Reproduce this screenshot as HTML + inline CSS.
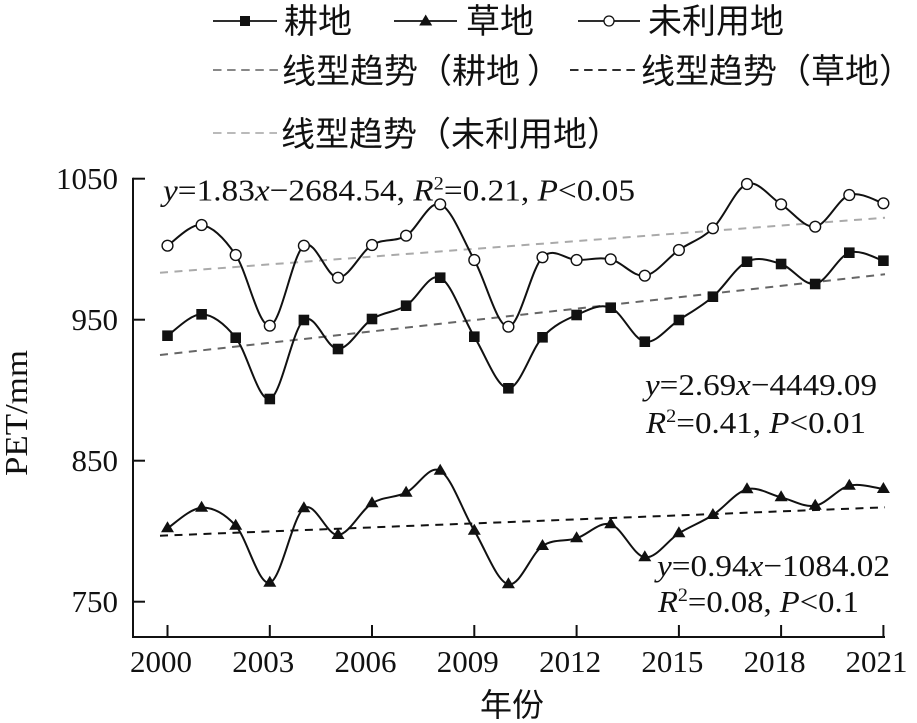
<!DOCTYPE html>
<html>
<head>
<meta charset="utf-8">
<style>
  html, body { margin: 0; padding: 0; background: #ffffff; }
  svg { display: block; }
  .num { font-family: "Liberation Serif", "Times New Roman", serif; fill: #111; }
  .cjk { font-family: "Liberation Sans", "Noto Sans CJK SC", sans-serif; fill: #111; }
  .it { font-style: italic; }
</style>
</head>
<body>
<svg width="917" height="723" viewBox="0 0 917 723" xmlns="http://www.w3.org/2000/svg">
  <rect x="0" y="0" width="917" height="723" fill="#ffffff"/>

  <!-- Legend row 1 -->
  <line x1="213" y1="21" x2="277" y2="21" stroke="#111" stroke-width="1.8"/>
  <rect x="240" y="16" width="10" height="10" fill="#111"/>
  <text class="cjk" x="284" y="33" font-size="34">耕地</text>

  <line x1="394" y1="21" x2="457" y2="21" stroke="#111" stroke-width="1.8"/>
  <polygon points="425.7,14.5 432.2,25.5 419.2,25.5" fill="#111"/>
  <text class="cjk" x="466" y="33" font-size="34">草地</text>

  <line x1="578" y1="21" x2="640" y2="21" stroke="#111" stroke-width="1.8"/>
  <circle cx="609" cy="21" r="5" fill="#fff" stroke="#111" stroke-width="1.3"/>
  <text class="cjk" x="648" y="33" font-size="34">未利用地</text>

  <!-- Legend row 2 -->
  <line x1="213" y1="70" x2="278" y2="70" stroke="#777" stroke-width="1.8" stroke-dasharray="8.5 5.6"/>
  <text class="cjk" x="282" y="83" font-size="34">线型趋势（耕地</text>
  <text class="cjk" x="527" y="83" font-size="34">）</text>
  <line x1="570" y1="70" x2="637" y2="70" stroke="#111" stroke-width="1.8" stroke-dasharray="8.5 5.6"/>
  <text class="cjk" x="641" y="83" font-size="34">线型趋势（草地）</text>

  <!-- Legend row 3 -->
  <line x1="213" y1="133" x2="277" y2="133" stroke="#b0b0b0" stroke-width="1.8" stroke-dasharray="8.5 5.6"/>
  <text class="cjk" x="281" y="146" font-size="34">线型趋势（未利用地）</text>

  <!-- Axes -->
  <line x1="133" y1="177.7" x2="133" y2="638" stroke="#111" stroke-width="2"/>
  <line x1="132" y1="637" x2="885" y2="637" stroke="#111" stroke-width="2"/>
  <!-- Y ticks -->
  <line x1="133" y1="178.7" x2="145" y2="178.7" stroke="#111" stroke-width="2"/>
  <line x1="133" y1="319.7" x2="145" y2="319.7" stroke="#111" stroke-width="2"/>
  <line x1="133" y1="460.7" x2="145" y2="460.7" stroke="#111" stroke-width="2"/>
  <line x1="133" y1="601.7" x2="145" y2="601.7" stroke="#111" stroke-width="2"/>
  <!-- X ticks -->
  <line x1="167.5" y1="637" x2="167.5" y2="625" stroke="#111" stroke-width="2"/>
  <line x1="269.8" y1="637" x2="269.8" y2="625" stroke="#111" stroke-width="2"/>
  <line x1="372" y1="637" x2="372" y2="625" stroke="#111" stroke-width="2"/>
  <line x1="474.3" y1="637" x2="474.3" y2="625" stroke="#111" stroke-width="2"/>
  <line x1="576.6" y1="637" x2="576.6" y2="625" stroke="#111" stroke-width="2"/>
  <line x1="678.9" y1="637" x2="678.9" y2="625" stroke="#111" stroke-width="2"/>
  <line x1="781.1" y1="637" x2="781.1" y2="625" stroke="#111" stroke-width="2"/>
  <line x1="883.4" y1="637" x2="883.4" y2="625" stroke="#111" stroke-width="2"/>

  <!-- Y tick labels -->
  <text class="num" x="118" y="189" font-size="31" text-anchor="end">1050</text>
  <text class="num" x="118" y="330" font-size="31" text-anchor="end">950</text>
  <text class="num" x="118" y="471" font-size="31" text-anchor="end">850</text>
  <text class="num" x="118" y="612" font-size="31" text-anchor="end">750</text>

  <!-- X tick labels -->
  <text class="num" x="161" y="672" font-size="31" text-anchor="middle">2000</text>
  <text class="num" x="263.3" y="672" font-size="31" text-anchor="middle">2003</text>
  <text class="num" x="365.5" y="672" font-size="31" text-anchor="middle">2006</text>
  <text class="num" x="467.8" y="672" font-size="31" text-anchor="middle">2009</text>
  <text class="num" x="570.1" y="672" font-size="31" text-anchor="middle">2012</text>
  <text class="num" x="672.4" y="672" font-size="31" text-anchor="middle">2015</text>
  <text class="num" x="774.6" y="672" font-size="31" text-anchor="middle">2018</text>
  <text class="num" x="876.5" y="672" font-size="31" text-anchor="middle">2021</text>

  <!-- Axis titles -->
  <text class="cjk" x="512" y="716" font-size="32" text-anchor="middle">年份</text>
  <text class="num" x="0" y="0" font-size="32" text-anchor="middle" transform="translate(27,413) rotate(-90)" textLength="126" lengthAdjust="spacingAndGlyphs">PET/mm</text>

  <!-- Trend lines -->
  <line x1="160" y1="272.7" x2="885" y2="217.7" stroke="#aaaaaa" stroke-width="2" stroke-dasharray="8 6.5"/>
  <line x1="160" y1="355" x2="885" y2="274.3" stroke="#666666" stroke-width="2" stroke-dasharray="8 6.5"/>
  <line x1="160" y1="535.7" x2="885" y2="507.3" stroke="#111111" stroke-width="2" stroke-dasharray="8 6.5"/>

  <!-- Series A: 未利用地 -->
  <path fill="none" stroke="#111" stroke-width="2" d="M167.5,245.7
    C173.2,242.25 190.2,223.45 201.6,225
    C212.9,226.55 224.3,238.22 235.7,255
    C247.1,271.78 258.4,327.25 269.8,325.7
    C281.2,324.15 292.5,253.7 303.9,245.7
    C315.3,237.7 326.6,277.82 338,277.7
    C349.4,277.58 360.6,252 372,245
    C383.4,238 394.7,242.48 406.1,235.7
    C417.5,228.92 428.8,200.25 440.2,204.3
    C451.6,208.35 462.9,239.6 474.3,260
    C485.7,280.4 497,327.15 508.4,326.7
    C519.8,326.25 531.1,268.42 542.5,257.3
    C553.9,246.18 565.2,259.67 576.6,260
    C588,260.33 599.3,256.68 610.7,259.3
    C622.1,261.92 633.4,277.25 644.8,275.7
    C656.2,274.15 667.5,257.9 678.9,250
    C690.3,242.1 701.5,239.3 712.9,228.3
    C724.3,217.3 735.6,188 747,184
    C758.4,180 769.7,197.18 781.1,204.3
    C792.5,211.42 803.8,228.25 815.2,226.7
    C826.6,225.15 837.9,198.9 849.3,195
    C860.7,191.1 877.7,201.92 883.4,203.3"/>

  <!-- Series B: 耕地 -->
  <path fill="none" stroke="#111" stroke-width="2" d="M167.5,335.7
    C173.2,332.13 190.2,313.97 201.6,314.3
    C212.9,314.63 224.3,323.58 235.7,337.7
    C247.1,351.82 258.4,401.95 269.8,399
    C281.2,396.05 292.5,328.33 303.9,320
    C315.3,311.67 326.6,349.17 338,349
    C349.4,348.83 360.6,326.22 372,319
    C383.4,311.78 394.7,312.58 406.1,305.7
    C417.5,298.82 428.8,272.53 440.2,277.7
    C451.6,282.87 462.9,318.27 474.3,336.7
    C485.7,355.13 497,388.2 508.4,388.3
    C519.8,388.4 531.1,349.52 542.5,337.3
    C553.9,325.08 565.2,319.93 576.6,315
    C588,310.07 599.3,303.25 610.7,307.7
    C622.1,312.15 633.4,339.65 644.8,341.7
    C656.2,343.75 667.5,327.5 678.9,320
    C690.3,312.5 701.5,306.42 712.9,296.7
    C724.3,286.98 735.6,267.15 747,261.7
    C758.4,256.25 769.7,260.28 781.1,264
    C792.5,267.72 803.8,285.88 815.2,284
    C826.6,282.12 837.9,256.58 849.3,252.7
    C860.7,248.82 877.7,259.37 883.4,260.7"/>

  <!-- Series C: 草地 -->
  <path fill="none" stroke="#111" stroke-width="2" d="M167.5,528.3
    C173.2,524.87 190.2,508.13 201.6,507.7
    C212.9,507.27 224.3,513.2 235.7,525.7
    C247.1,538.2 258.4,585.6 269.8,582.7
    C281.2,579.8 292.5,516.25 303.9,508.3
    C315.3,500.35 326.6,535.83 338,535
    C349.4,534.17 360.6,510.35 372,503.3
    C383.4,496.25 394.7,498.13 406.1,492.7
    C417.5,487.27 428.8,464.37 440.2,470.7
    C451.6,477.03 462.9,511.77 474.3,530.7
    C485.7,549.63 497,581.75 508.4,584.3
    C519.8,586.85 531.1,553.67 542.5,546
    C553.9,538.33 565.2,541.92 576.6,538.3
    C588,534.68 599.3,521.13 610.7,524.3
    C622.1,527.47 633.4,555.8 644.8,557.3
    C656.2,558.8 667.5,540.35 678.9,533.3
    C690.3,526.25 701.5,522.33 712.9,515
    C724.3,507.67 735.6,492.25 747,489.3
    C758.4,486.35 769.7,494.57 781.1,497.3
    C792.5,500.03 803.8,507.63 815.2,505.7
    C826.6,503.77 837.9,488.48 849.3,485.7
    C860.7,482.92 877.7,488.45 883.4,489"/>

  <!-- Markers A: circles -->
  <g fill="#ffffff" stroke="#111" stroke-width="1.4">
    <circle cx="167.5" cy="245.7" r="5.4"/>
    <circle cx="201.6" cy="225" r="5.4"/>
    <circle cx="235.7" cy="255" r="5.4"/>
    <circle cx="269.8" cy="325.7" r="5.4"/>
    <circle cx="303.9" cy="245.7" r="5.4"/>
    <circle cx="338" cy="277.7" r="5.4"/>
    <circle cx="372" cy="245" r="5.4"/>
    <circle cx="406.1" cy="235.7" r="5.4"/>
    <circle cx="440.2" cy="204.3" r="5.4"/>
    <circle cx="474.3" cy="260" r="5.4"/>
    <circle cx="508.4" cy="326.7" r="5.4"/>
    <circle cx="542.5" cy="257.3" r="5.4"/>
    <circle cx="576.6" cy="260" r="5.4"/>
    <circle cx="610.7" cy="259.3" r="5.4"/>
    <circle cx="644.8" cy="275.7" r="5.4"/>
    <circle cx="678.9" cy="250" r="5.4"/>
    <circle cx="712.9" cy="228.3" r="5.4"/>
    <circle cx="747" cy="184" r="5.4"/>
    <circle cx="781.1" cy="204.3" r="5.4"/>
    <circle cx="815.2" cy="226.7" r="5.4"/>
    <circle cx="849.3" cy="195" r="5.4"/>
    <circle cx="883.4" cy="203.3" r="5.4"/>
  </g>

  <!-- Markers B: squares -->
  <g fill="#111">
    <rect x="162.2" y="330.4" width="10.6" height="10.6"/>
    <rect x="196.3" y="309" width="10.6" height="10.6"/>
    <rect x="230.4" y="332.4" width="10.6" height="10.6"/>
    <rect x="264.5" y="393.7" width="10.6" height="10.6"/>
    <rect x="298.6" y="314.7" width="10.6" height="10.6"/>
    <rect x="332.7" y="343.7" width="10.6" height="10.6"/>
    <rect x="366.7" y="313.7" width="10.6" height="10.6"/>
    <rect x="400.8" y="300.4" width="10.6" height="10.6"/>
    <rect x="434.9" y="272.4" width="10.6" height="10.6"/>
    <rect x="469" y="331.4" width="10.6" height="10.6"/>
    <rect x="503.1" y="383" width="10.6" height="10.6"/>
    <rect x="537.2" y="332" width="10.6" height="10.6"/>
    <rect x="571.3" y="309.7" width="10.6" height="10.6"/>
    <rect x="605.4" y="302.4" width="10.6" height="10.6"/>
    <rect x="639.5" y="336.4" width="10.6" height="10.6"/>
    <rect x="673.6" y="314.7" width="10.6" height="10.6"/>
    <rect x="707.6" y="291.4" width="10.6" height="10.6"/>
    <rect x="741.7" y="256.4" width="10.6" height="10.6"/>
    <rect x="775.8" y="258.7" width="10.6" height="10.6"/>
    <rect x="809.9" y="278.7" width="10.6" height="10.6"/>
    <rect x="844" y="247.4" width="10.6" height="10.6"/>
    <rect x="878.1" y="255.4" width="10.6" height="10.6"/>
  </g>

  <!-- Markers C: triangles (centered) -->
  <g fill="#111">
    <polygon points="167.5,521.3 174,532.3 161,532.3"/>
    <polygon points="201.6,500.7 208.1,511.7 195.1,511.7"/>
    <polygon points="235.7,518.7 242.2,529.7 229.2,529.7"/>
    <polygon points="269.8,575.7 276.3,586.7 263.3,586.7"/>
    <polygon points="303.9,501.3 310.4,512.3 297.4,512.3"/>
    <polygon points="338,528 344.5,539 331.5,539"/>
    <polygon points="372,496.3 378.5,507.3 365.5,507.3"/>
    <polygon points="406.1,485.7 412.6,496.7 399.6,496.7"/>
    <polygon points="440.2,463.7 446.7,474.7 433.7,474.7"/>
    <polygon points="474.3,523.7 480.8,534.7 467.8,534.7"/>
    <polygon points="508.4,577.3 514.9,588.3 501.9,588.3"/>
    <polygon points="542.5,539 549,550 536,550"/>
    <polygon points="576.6,531.3 583.1,542.3 570.1,542.3"/>
    <polygon points="610.7,517.3 617.2,528.3 604.2,528.3"/>
    <polygon points="644.8,550.3 651.3,561.3 638.3,561.3"/>
    <polygon points="678.9,526.3 685.4,537.3 672.4,537.3"/>
    <polygon points="712.9,508 719.4,519 706.4,519"/>
    <polygon points="747,482.3 753.5,493.3 740.5,493.3"/>
    <polygon points="781.1,490.3 787.6,501.3 774.6,501.3"/>
    <polygon points="815.2,498.7 821.7,509.7 808.7,509.7"/>
    <polygon points="849.3,478.7 855.8,489.7 842.8,489.7"/>
    <polygon points="883.4,482 889.9,493 876.9,493"/>
  </g>

  <!-- Annotations -->
  <text class="num" x="163" y="200.5" font-size="31" textLength="472" lengthAdjust="spacingAndGlyphs"><tspan class="it">y</tspan>=1.83<tspan class="it">x</tspan>−2684.54, <tspan class="it">R</tspan><tspan font-size="19" dy="-11">2</tspan><tspan dy="11">=0.21, </tspan><tspan class="it">P</tspan>&lt;0.05</text>

  <text class="num" x="645" y="395" font-size="31" textLength="232" lengthAdjust="spacingAndGlyphs"><tspan class="it">y</tspan>=2.69<tspan class="it">x</tspan>−4449.09</text>
  <text class="num" x="646" y="433" font-size="31" textLength="220" lengthAdjust="spacingAndGlyphs"><tspan class="it">R</tspan><tspan font-size="19" dy="-11">2</tspan><tspan dy="11">=0.41, </tspan><tspan class="it">P</tspan>&lt;0.01</text>

  <text class="num" x="657" y="576" font-size="31" textLength="233" lengthAdjust="spacingAndGlyphs"><tspan class="it">y</tspan>=0.94<tspan class="it">x</tspan>−1084.02</text>
  <text class="num" x="658" y="612" font-size="31" textLength="201" lengthAdjust="spacingAndGlyphs"><tspan class="it">R</tspan><tspan font-size="19" dy="-11">2</tspan><tspan dy="11">=0.08, </tspan><tspan class="it">P</tspan>&lt;0.1</text>
</svg>
</body>
</html>
